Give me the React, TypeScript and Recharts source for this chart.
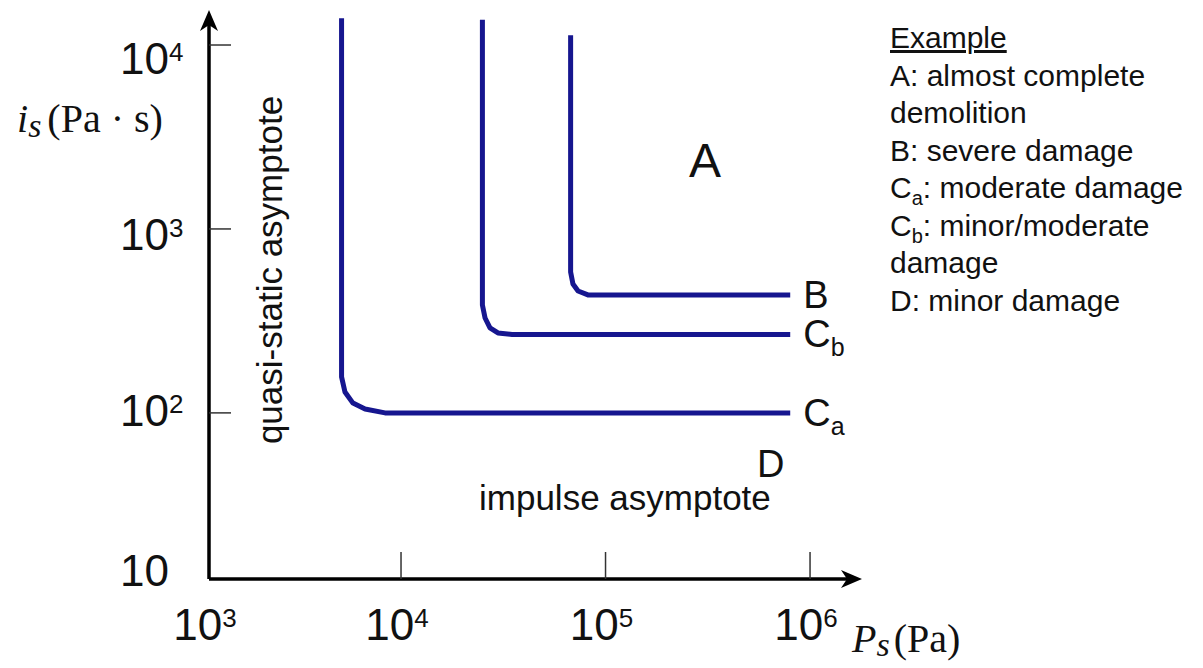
import React from 'react';
import { ComposedChart, Line, XAxis, YAxis, ReferenceLine, ReferenceDot } from 'recharts';

// Damage iso-curves: peak overpressure P_s (Pa) vs. impulse i_s (Pa·s)
const B_PRESSURE = [67500, 67500, 69300, 73400, 82000, 800000];
const B_IMPULSE = [11300, 583, 502, 460, 438, 438];
const CB_PRESSURE = [25000, 25000, 25760, 27230, 29780, 34900, 800000];
const CB_IMPULSE = [13700, 386, 328, 290, 272, 267, 267];
const CA_PRESSURE = [5120, 5120, 5320, 5820, 6670, 8350, 800000];
const CA_IMPULSE = [14000, 157, 130, 113, 105, 100, 100];

// axis ranges (origin sits a little above the 10^3 / 10 decades)
const X_MIN = 1151;
const X_MAX = 1.795e6;
const Y_MIN = 12.5;
const Y_MAX = 15500;

const X_TICKS = [X_MIN, 1e4, 1e5, 1e6];
const X_TICK_EXPONENTS = ['3', '4', '5', '6'];
const Y_TICKS = [Y_MIN, 1e2, 1e3, 1e4];
const Y_TICK_EXPONENTS = ['', '2', '3', '4'];

const LEGEND_LINES = [
  { head: 'A: almost complete', sub: '', tail: '' },
  { head: 'demolition', sub: '', tail: '' },
  { head: 'B: severe damage', sub: '', tail: '' },
  { head: 'C', sub: 'a', tail: ': moderate damage' },
  { head: 'C', sub: 'b', tail: ': minor/moderate' },
  { head: 'damage', sub: '', tail: '' },
  { head: 'D: minor damage', sub: '', tail: '' },
];

const SANS = '"Liberation Sans", Arial, sans-serif';
const SERIF = '"Liberation Serif", "Times New Roman", serif';
const CURVE = '#16168f';
const INK = '#111';

const toPoints = (xs: number[], ys: number[]) => xs.map((x, i) => ({ x, y: ys[i] }));
const B_DATA = toPoints(B_PRESSURE, B_IMPULSE);
const CB_DATA = toPoints(CB_PRESSURE, CB_IMPULSE);
const CA_DATA = toPoints(CA_PRESSURE, CA_IMPULSE);

const last = (d: { x: number; y: number }[]) => d[d.length - 1];

const XTick = (props: any) => {
  const { x, y, index } = props;
  return (
    <g>
      {index > 0 && <line x1={x} y1={y} x2={x} y2={y - 27} stroke="#333" strokeWidth={1.5} />}
      <text x={x - 4} y={y + 61} textAnchor="middle" fontFamily={SANS} fontSize={44} fill={INK}>
        <tspan>10</tspan>
        <tspan fontSize={26} dy={-13}>{X_TICK_EXPONENTS[index]}</tspan>
      </text>
    </g>
  );
};

const YTick = (props: any) => {
  const { x, y, index } = props;
  // labels sit a bit lower near the top, a bit higher near the origin
  const drop = 29 - (y - 45) * 0.042;
  return (
    <g>
      {index > 0 && <line x1={x} y1={y} x2={x + 22} y2={y} stroke="#333" strokeWidth={1.5} />}
      <text x={x - 89} y={y + drop} textAnchor="start" fontFamily={SANS} fontSize={44} fill={INK}>
        <tspan>10</tspan>
        {Y_TICK_EXPONENTS[index] && (
          <tspan fontSize={26} dy={-13}>{Y_TICK_EXPONENTS[index]}</tspan>
        )}
      </text>
    </g>
  );
};

// axis line ending in a filled arrow head
const AxisArrow = (props: any) => {
  const { x1, y1, x2, y2 } = props;
  const ang = Math.atan2(y2 - y1, x2 - x1);
  const ux = Math.cos(ang);
  const uy = Math.sin(ang);
  const px = -uy;
  const py = ux;
  const len = 21;
  const half = 9;
  const notch = 6;
  const bx = x2 - ux * len;
  const by = y2 - uy * len;
  const nx = x2 - ux * (len - notch);
  const ny = y2 - uy * (len - notch);
  const pts = [
    [x2, y2],
    [bx + px * half, by + py * half],
    [nx, ny],
    [bx - px * half, by - py * half],
  ]
    .map((p) => p.join(','))
    .join(' ');
  return (
    <g>
      <line x1={x1} y1={y1} x2={nx} y2={ny} stroke="#000" strokeWidth={3.5} />
      <polygon points={pts} fill="#000" />
    </g>
  );
};

const curveTag = (name: string, sub: string) => (props: any) => {
  const { cx, cy } = props;
  return (
    <text x={cx + 13} y={cy + 13} fontFamily={SANS} fontSize={38} fill={INK}>
      <tspan>{name}</tspan>
      {sub && (
        <tspan fontSize={25} dy={9}>
          {sub}
        </tspan>
      )}
    </text>
  );
};

const CURVES = [
  { key: 'B', data: B_DATA, tag: curveTag('B', '') },
  { key: 'Cb', data: CB_DATA, tag: curveTag('C', 'b') },
  { key: 'Ca', data: CA_DATA, tag: curveTag('C', 'a') },
];

export default function App() {
  return (
    <div style={{ position: 'absolute', left: 0, top: 0, width: 1203, height: 668, background: '#fff' }}>
      <ComposedChart width={1203} height={668} margin={{ top: 10, right: 341, bottom: 59, left: 179 }}>
        <XAxis
          type="number"
          dataKey="x"
          scale="log"
          domain={[X_MIN, X_MAX]}
          allowDataOverflow
          ticks={X_TICKS}
          interval={0}
          height={30}
          axisLine={false}
          tickLine={false}
          tickSize={0}
          tickMargin={0}
          tick={(p: any) => <XTick {...p} />}
        />
        <YAxis
          type="number"
          dataKey="y"
          scale="log"
          domain={[Y_MIN, Y_MAX]}
          allowDataOverflow
          ticks={Y_TICKS}
          interval={0}
          width={30}
          axisLine={false}
          tickLine={false}
          tickSize={0}
          tickMargin={0}
          tick={(p: any) => <YTick {...p} />}
        />
        {CURVES.map((c) => (
          <Line
            key={c.key}
            data={c.data}
            dataKey="y"
            type="linear"
            stroke={CURVE}
            strokeWidth={5}
            strokeLinejoin="round"
            dot={false}
            activeDot={false}
            isAnimationActive={false}
          />
        ))}
        {CURVES.map((c) => (
          <ReferenceDot
            key={c.key + '-tag'}
            x={last(c.data).x}
            y={last(c.data).y}
            r={0}
            ifOverflow="visible"
            shape={c.tag}
          />
        ))}
        <ReferenceLine
          segment={[{ x: X_MIN, y: Y_MIN }, { x: X_MAX, y: Y_MIN }]}
          ifOverflow="visible"
          shape={AxisArrow}
        />
        <ReferenceLine
          segment={[{ x: X_MIN, y: Y_MIN }, { x: X_MIN, y: Y_MAX }]}
          ifOverflow="visible"
          shape={AxisArrow}
        />
      </ComposedChart>

      <svg
        width={1203}
        height={668}
        style={{ position: 'absolute', left: 0, top: 0, pointerEvents: 'none' }}
      >
        {/* axis titles */}
        <text x={17} y={132} fontFamily={SERIF} fontSize={40} fill={INK}>
          <tspan fontStyle="italic">i</tspan>
          <tspan fontStyle="italic" fontSize={34} dy={5}>s</tspan>
          <tspan dy={-5} dx={6}>(Pa · s)</tspan>
        </text>
        <text x={852} y={652} fontFamily={SERIF} fontSize={40} fill={INK}>
          <tspan fontStyle="italic">P</tspan>
          <tspan fontStyle="italic" fontSize={34} dy={4}>s</tspan>
          <tspan dy={-4} dx={4}>(Pa)</tspan>
        </text>

        {/* region and asymptote annotations */}
        <text x={705} y={177} textAnchor="middle" fontFamily={SANS} fontSize={48} fill={INK}>A</text>
        <text x={757} y={477} fontFamily={SANS} fontSize={38} fill={INK}>D</text>
        <text x={479} y={510} fontFamily={SANS} fontSize={35} fill={INK}>impulse asymptote</text>
        <text
          x={282}
          y={270}
          transform="rotate(-90 282 270)"
          textAnchor="middle"
          fontFamily={SANS}
          fontSize={35}
          fill={INK}
        >
          quasi-static asymptote
        </text>

        {/* legend */}
        <text x={890} y={48} fontFamily={SANS} fontSize={30} fill={INK} textDecoration="underline">
          Example
        </text>
        {LEGEND_LINES.map((l, i) => (
          <text key={i} x={890} y={85.5 + i * 37.5} fontFamily={SANS} fontSize={30} fill={INK}>
            <tspan>{l.head}</tspan>
            {l.sub && (
              <tspan fontSize={20} dy={7}>
                {l.sub}
              </tspan>
            )}
            {l.tail && <tspan dy={l.sub ? -7 : 0}>{l.tail}</tspan>}
          </text>
        ))}
      </svg>
    </div>
  );
}
